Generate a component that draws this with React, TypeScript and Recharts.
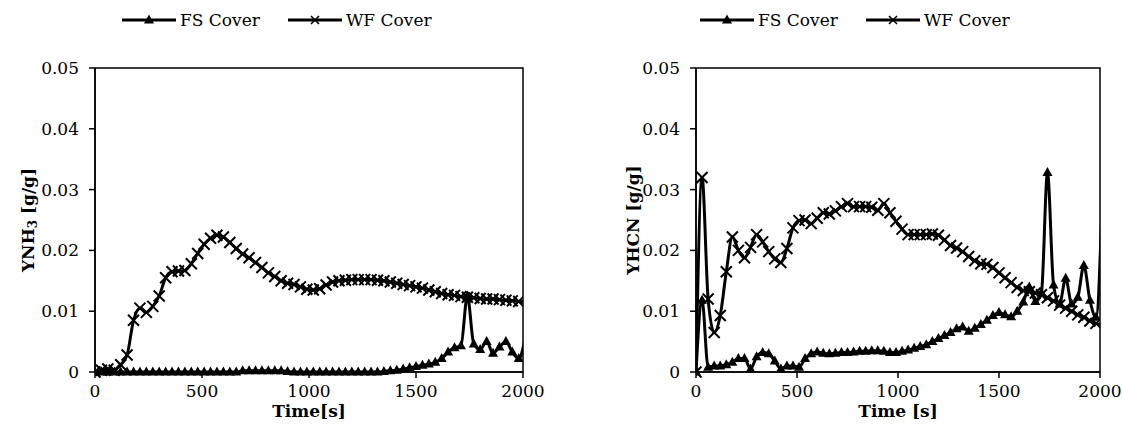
import { LineChart, Line, XAxis, YAxis, ReferenceArea } from "recharts";

const SERIF = "'DejaVu Serif', 'Liberation Serif', 'Noto Serif', Georgia, serif";
const FONT_SIZE = 17;

// sampling times [s]; the last one lies past 2000 and is clipped by the axis
const TIME = [
  0, 30, 60, 90, 120, 150, 180, 210, 240, 270,
  300, 330, 360, 390, 420, 450, 480, 510, 540, 570,
  600, 630, 660, 690, 720, 750, 780, 810, 840, 870,
  900, 930, 960, 990, 1020, 1050, 1080, 1110, 1140, 1170,
  1200, 1230, 1260, 1290, 1320, 1350, 1380, 1410, 1440, 1470,
  1500, 1530, 1560, 1590, 1620, 1650, 1680, 1710, 1740, 1770,
  1800, 1830, 1860, 1890, 1920, 1950, 1980, 2010,
];

const NH3_FS = [
  0, 0, 0, 0, 0, 0, 0, 0, 0, 0,
  0, 0, 0, 0, 0, 0, 0, 0, 0, 0,
  0, 0, 0, 0.0002, 0.0002, 0.0002, 0.0002, 0.0002, 0.0002, 0.0002,
  0.0001, 0, 0, 0, 0, 0, 0, 0, 0, 0,
  0, 0, 0, 0, 0, 0.0001, 0.0002, 0.0003, 0.0005, 0.0007,
  0.0009, 0.0011, 0.0013, 0.0016, 0.0022, 0.0033, 0.004, 0.0043, 0.0125, 0.0046,
  0.0037, 0.005, 0.0031, 0.0041, 0.005, 0.0033, 0.0022, 0.0055,
];

const NH3_WF = [
  0, 0.0003, 0.0005, 0.0003, 0.0012, 0.0028, 0.0085, 0.0105, 0.0098, 0.0108,
  0.0125, 0.0155, 0.0165, 0.0166, 0.0167, 0.0178, 0.0195, 0.021, 0.022, 0.0225,
  0.0222, 0.0213, 0.0203, 0.0194, 0.0188, 0.018, 0.0172, 0.0163, 0.0157, 0.015,
  0.0146, 0.0144, 0.014, 0.0136, 0.0135, 0.0137, 0.0143, 0.0148, 0.015, 0.0151,
  0.0152, 0.0152, 0.0152, 0.0152, 0.0151, 0.015, 0.0148, 0.0146, 0.0144, 0.0142,
  0.014, 0.0138, 0.0135, 0.0132, 0.0129, 0.0127, 0.0126, 0.0124, 0.0123, 0.0122,
  0.0121, 0.012, 0.012, 0.0119, 0.0118, 0.0117, 0.0116, 0.0115,
];

const HCN_FS = [
  0, 0.0118, 0.0008, 0.001, 0.001, 0.0012, 0.0016, 0.0022, 0.0022, 0.0005,
  0.0025, 0.0032, 0.003, 0.0018, 0.0005, 0.001, 0.001, 0.0008, 0.0022, 0.003,
  0.0033, 0.0031, 0.003, 0.0031, 0.0032, 0.0032, 0.0033, 0.0034, 0.0034, 0.0035,
  0.0035, 0.0034, 0.0032, 0.0032, 0.0034, 0.0036, 0.0039, 0.0042, 0.0045, 0.005,
  0.0055, 0.006, 0.0065, 0.0071, 0.0074, 0.0067, 0.0072, 0.0078, 0.0085, 0.0093,
  0.0098, 0.0094, 0.0091, 0.01, 0.0115, 0.014, 0.0116, 0.013, 0.0328, 0.0143,
  0.0112, 0.0154, 0.0112, 0.0123, 0.0175, 0.0118, 0.009, 0.027,
];

const HCN_WF = [
  0, 0.032, 0.012, 0.0065, 0.0093, 0.0165, 0.0222, 0.02, 0.0188, 0.0205,
  0.0226, 0.0214, 0.0198, 0.0186, 0.018, 0.0203, 0.0237, 0.0249, 0.025, 0.0244,
  0.0253, 0.0262, 0.026, 0.0265, 0.0272, 0.0277, 0.0272, 0.0272, 0.0272, 0.0271,
  0.0266, 0.0277, 0.0262, 0.0248, 0.0235, 0.0226, 0.0226, 0.0226, 0.0226, 0.0227,
  0.0225, 0.0217, 0.0208, 0.0204, 0.0198, 0.019, 0.0183, 0.0178, 0.0177, 0.0172,
  0.0163, 0.0155, 0.0147, 0.0139, 0.0134, 0.0132, 0.013, 0.0127, 0.0122, 0.0117,
  0.011, 0.0105, 0.01, 0.0094, 0.009, 0.0084, 0.008, 0.0078,
];

const X_TICKS = [0, 500, 1000, 1500, 2000];
const Y_TICKS = [0, 0.01, 0.02, 0.03, 0.04, 0.05];
const X_MAX = 2000;

const nh3Rows = TIME.map((t, i) => ({ t, fs: NH3_FS[i], wf: NH3_WF[i] }));
const hcnRows = TIME.map((t, i) => ({ t, fs: HCN_FS[i], wf: HCN_WF[i] }));

const hidden = (props: any) =>
  props.cx == null || props.cy == null || (props.payload && props.payload.t > X_MAX);

const TriangleDot = (props: any) => {
  const { cx, cy, index } = props;
  if (hidden(props)) return <g key={`tri-${index}`} />;
  return (
    <path
      key={`tri-${index}`}
      d={`M${cx},${cy - 5.5} L${cx + 5},${cy + 3.5} L${cx - 5},${cy + 3.5} Z`}
      fill="#000"
    />
  );
};

const CrossDot = (props: any) => {
  const { cx, cy, index } = props;
  if (hidden(props)) return <g key={`x-${index}`} />;
  const s = 5.5;
  return (
    <path
      key={`x-${index}`}
      d={`M${cx - s},${cy - s} L${cx + s},${cy + s} M${cx - s},${cy + s} L${cx + s},${cy - s}`}
      stroke="#000"
      strokeWidth={2}
      fill="none"
    />
  );
};

function LegendIcon({ kind }: { kind: "tri" | "x" }) {
  return (
    <svg width={54} height={14} style={{ display: "block" }}>
      <line x1={0} y1={7} x2={54} y2={7} stroke="#000" strokeWidth={3} />
      {kind === "tri" ? (
        <path d="M27,1.5 L32,10.5 L22,10.5 Z" fill="#000" />
      ) : (
        <path d="M23,3 L31,11 M23,11 L31,3" stroke="#000" strokeWidth={1.6} />
      )}
    </svg>
  );
}

function SeriesLegend({ left }: { left: number }) {
  return (
    <div
      style={{
        position: "absolute",
        left,
        top: 8,
        display: "flex",
        alignItems: "center",
        fontFamily: SERIF,
        fontSize: FONT_SIZE,
        lineHeight: "24px",
        color: "#000",
      }}
    >
      <LegendIcon kind="tri" />
      <span style={{ marginLeft: 4, marginRight: 28 }}>FS Cover</span>
      <LegendIcon kind="x" />
      <span style={{ marginLeft: 4 }}>WF Cover</span>
    </div>
  );
}

function YTitle({ viewBox, gas, dx }: any) {
  const x = viewBox.x + dx;
  const y = viewBox.y + viewBox.height / 2;
  return (
    <text
      x={x}
      y={y}
      transform={`rotate(-90, ${x}, ${y})`}
      textAnchor="middle"
      dominantBaseline="central"
      style={{ fontFamily: SERIF, fontSize: FONT_SIZE, fontWeight: "bold" }}
      fill="#000"
    >
      {gas === "nh3" ? (
        <>
          <tspan>YNH</tspan>
          <tspan style={{ fontSize: 12 }} dy={5}>3</tspan>
          <tspan dy={-5}> [g/g]</tspan>
        </>
      ) : (
        <tspan>YHCN [g/g]</tspan>
      )}
    </text>
  );
}

function XTitle({ viewBox, text }: any) {
  return (
    <text
      x={viewBox.x + viewBox.width / 2}
      y={411}
      textAnchor="middle"
      dominantBaseline="central"
      style={{ fontFamily: SERIF, fontSize: FONT_SIZE, fontWeight: "bold" }}
      fill="#000"
    >
      {text}
    </text>
  );
}

function Panel({
  rows,
  left,
  width,
  margin,
  gas,
  titleDx,
  xTitle,
}: {
  rows: { t: number; fs: number; wf: number }[];
  left: number;
  width: number;
  margin: { top: number; right: number; bottom: number; left: number };
  gas: "nh3" | "hcn";
  titleDx: number;
  xTitle: string;
}) {
  const tick = { fill: "#000", fontSize: FONT_SIZE, fontFamily: SERIF };
  const axisLine = { stroke: "#000", strokeWidth: 1.5 };
  return (
    <div style={{ position: "absolute", left, top: 0 }}>
      <LineChart width={width} height={441} data={rows} margin={margin}>
        <XAxis
          dataKey="t"
          type="number"
          domain={[0, X_MAX]}
          allowDataOverflow
          ticks={X_TICKS}
          interval={0}
          tick={tick}
          tickSize={6}
          tickMargin={7}
          axisLine={axisLine}
          tickLine={axisLine}
          height={28}
          label={<XTitle text={xTitle} />}
        />
        <YAxis
          type="number"
          domain={[0, 0.05]}
          ticks={Y_TICKS}
          interval={0}
          tickFormatter={(v: number) => (v === 0 ? "0" : v.toFixed(2))}
          tick={tick}
          tickSize={6}
          tickMargin={10}
          axisLine={axisLine}
          tickLine={axisLine}
          width={85}
          label={<YTitle gas={gas} dx={titleDx} />}
        />
        <ReferenceArea
          x1={0}
          x2={X_MAX}
          y1={0}
          y2={0.05}
          fill="none"
          fillOpacity={0}
          stroke="#000"
          strokeWidth={1.5}
        />
        <Line
          dataKey="fs"
          type="monotone"
          stroke="#000"
          strokeWidth={3}
          dot={TriangleDot}
          activeDot={false}
          isAnimationActive={false}
        />
        <Line
          dataKey="wf"
          type="monotone"
          stroke="#000"
          strokeWidth={3}
          dot={CrossDot}
          activeDot={false}
          isAnimationActive={false}
        />
      </LineChart>
    </div>
  );
}

export default function App() {
  return (
    <div
      style={{
        position: "absolute",
        left: 0,
        top: 0,
        width: 1123,
        height: 441,
        background: "#fff",
        overflow: "hidden",
      }}
    >
      <SeriesLegend left={122} />
      <SeriesLegend left={700} />
      <Panel
        rows={nh3Rows}
        left={0}
        width={560}
        margin={{ top: 68, right: 37, bottom: 41, left: 10 }}
        gas="nh3"
        titleDx={18}
        xTitle="Time[s]"
      />
      <Panel
        rows={hcnRows}
        left={560}
        width={563}
        margin={{ top: 68, right: 23, bottom: 41, left: 51 }}
        gas="hcn"
        titleDx={22}
        xTitle="Time [s]"
      />
    </div>
  );
}
